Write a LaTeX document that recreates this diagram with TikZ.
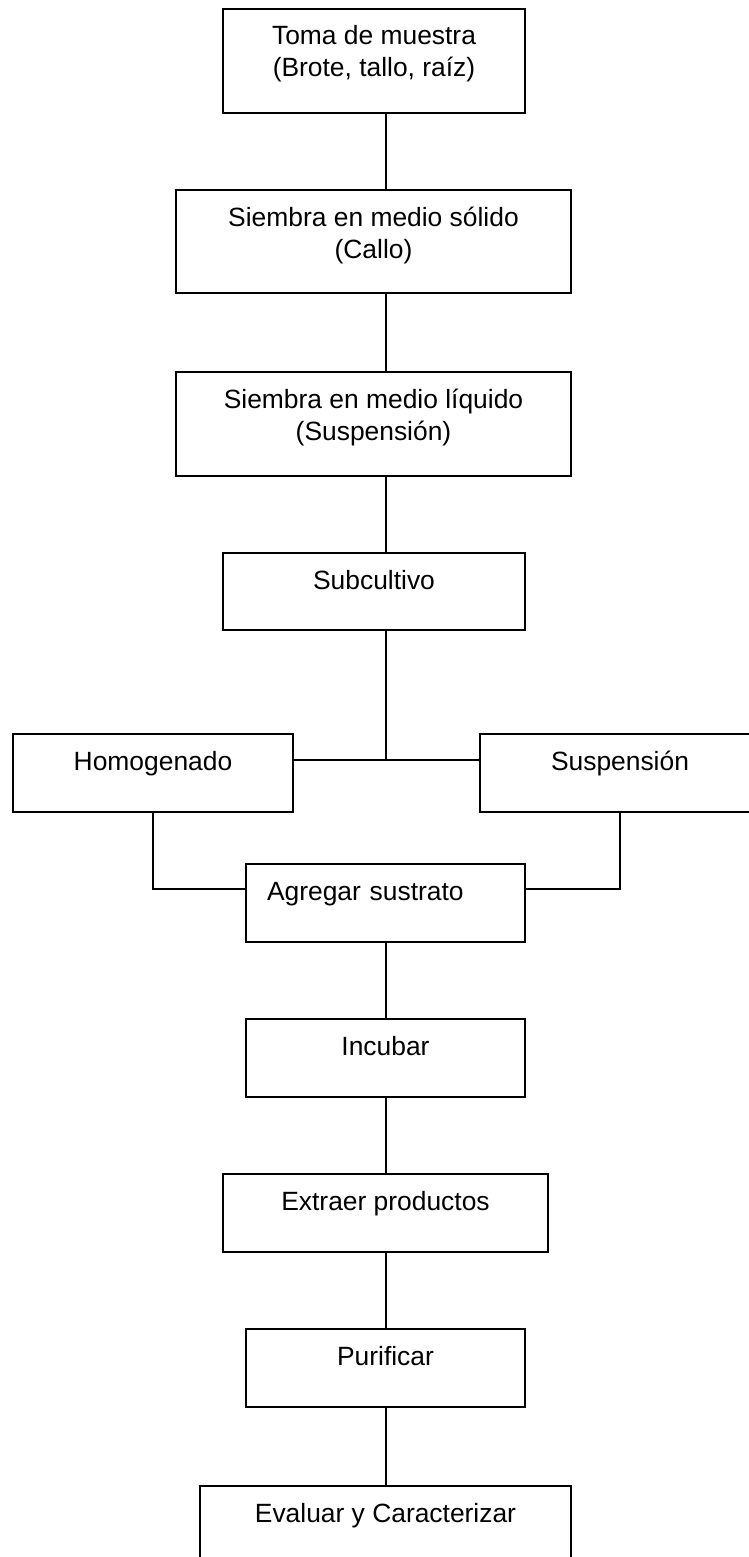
\documentclass[tikz,border=0pt]{standalone}
\usepackage{fontspec}
\setmainfont{Liberation Sans}
\usepackage{tikz}

\tikzset{
  etapa/.style={draw, line width=1pt, inner xsep=0pt, inner ysep=0pt, align=center,
    text height=18pt, font=\fontsize{13.2}{16}\selectfont},
  linea/.style={line width=0.8pt}
}

\begin{document}
\begin{tikzpicture}[x=0.5pt, y=-0.5pt]
            \useasboundingbox (0,0) rectangle (749,1557);
            \node[etapa, minimum width=151pt, text height=34pt, text depth=18pt] (toma) at (374,61)
                {Toma de muestra\\(Brote, tallo, raíz)};
            \node[etapa, minimum width=197.5pt, text height=34pt, text depth=17.5pt] (solido) at (373.5,241.5)
                {Siembra en medio sólido\\(Callo)};
            \node[etapa, minimum width=197.5pt, text height=34pt, text depth=18pt] (liquido) at (373.5,424)
                {Siembra en medio líquido\\(Suspensión)};
            \node[etapa, minimum width=151pt, text depth=20.5pt] (subcultivo) at (374,591.5) {Subcultivo};
            \node[etapa, minimum width=140pt, text depth=21pt] (homogenado) at (153,773) {Homogenado};
            \node[etapa, minimum width=140pt, text depth=21pt] (suspension) at (620,773) {Suspensión};
            \node[etapa, inner xsep=10.5pt, text width=118.5pt, align=left, text depth=21pt] (agregar) at (385.5,903)
                {Agregar sustrato};
            \node[etapa, minimum width=139.5pt, text depth=21pt] (incubar) at (385.5,1058) {Incubar};
            \node[etapa, minimum width=162.5pt, text depth=21pt] (extraer) at (385.5,1213) {Extraer productos};
            \node[etapa, minimum width=139.5pt, text depth=21pt] (purificar) at (385.5,1368) {Purificar};
            \node[etapa, minimum width=185.5pt, text depth=21pt] (evaluar) at (385.5,1525) {Evaluar y Caracterizar};

            \coordinate (eje) at (386,0);
            \coordinate (cruce) at (386,760);
            \coordinate (union) at (0,889);
            \foreach \a/\b in {toma/solido, solido/liquido, liquido/subcultivo,
                agregar/incubar, incubar/extraer, extraer/purificar, purificar/evaluar}
                \draw[linea] (\a.south -| eje) -- (\b.north -| eje);
            \draw[linea] (subcultivo.south -| eje) -- (cruce);
            \draw[linea] (homogenado.east |- cruce) -- (suspension.west |- cruce);
            \draw[linea] (homogenado.south) |- (agregar.west |- union);
            \draw[linea] (suspension.south) |- (agregar.east |- union);
        \end{tikzpicture}
\end{document}
